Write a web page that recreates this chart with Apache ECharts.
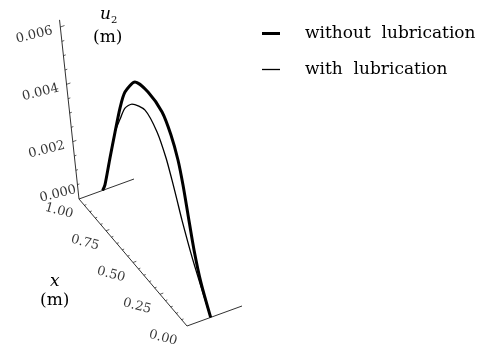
<!DOCTYPE html>
<html>
<head>
<meta charset="utf-8">
<script src="https://cdn.jsdelivr.net/npm/echarts@6/dist/echarts.min.js"></script>
<style>
  html, body { margin: 0; padding: 0; background: #fff; }
  #chart { width: 483px; height: 351px; }
</style>
</head>
<body>
<div id="chart"></div>
<script>
// Vertical displacement u2 along the contact length x, with and without lubrication
const seriesNames = ['without lubrication', 'with lubrication'];

const xWithout = [1.000, 0.973, 0.909, 0.851, 0.800, 0.755, 0.675, 0.578, 0.474, 0.405, 0.347, 0.301, 0.250, 0.185, 0.107, 0.000];
const uWithout = [0, 0.00031, 0.00154, 0.00274, 0.00386, 0.00468, 0.00550, 0.00570, 0.00557, 0.00510, 0.00447, 0.00375, 0.00285, 0.00180, 0.00087, 0];

const xWith = [1.000, 0.973, 0.909, 0.851, 0.795, 0.759, 0.702, 0.601, 0.509, 0.437, 0.386, 0.341, 0.295, 0.197, 0.094, 0.000];
const uWith = [0, 0.00031, 0.00154, 0.00274, 0.00357, 0.00408, 0.00454, 0.00489, 0.00460, 0.00402, 0.00345, 0.00292, 0.00239, 0.00145, 0.00065, 0];

const uTicks = [0, 0.002, 0.004, 0.006];
const uTickLabels = ['0.000', '0.002', '0.004', '0.006'];
const xTicks = [1.00, 0.75, 0.50, 0.25, 0.00];
const xTickLabels = ['1.00', '0.75', '0.50', '0.25', '0.00'];

// --- 3D view: box corner, depth / side edge directions, vertical perspective ---
const VIEW = {
  corner: [79, 199],     // x = 1, side = 0, u = 0
  depth: [108, 127],     // from x = 1 to x = 0
  side: [55, -20],       // side edge of the box
  vanish: [149, 843],    // vertical lines converge here
  rise: 0.267,           // relative height for u = uRef
  uRef: 0.006,
  uTop: 0.00625,
  plane: 0.43            // side position of the curve plane
};

function project(x, u, w) {
  const s = 1 - x;
  const bx = VIEW.corner[0] + s * VIEW.depth[0] + w * VIEW.side[0];
  const by = VIEW.corner[1] + s * VIEW.depth[1] + w * VIEW.side[1];
  const k = VIEW.rise * u / VIEW.uRef;
  return [bx + k * (bx - VIEW.vanish[0]), by + k * (by - VIEW.vanish[1])];
}

function curve(xs, us) {
  return xs.map((x, i) => project(x, us[i], VIEW.plane));
}

// label offsets are applied in the rotated text frame; convert a screen shift
function labelOffset(dx, dy, deg) {
  const a = deg * Math.PI / 180, c = Math.cos(a), s = Math.sin(a);
  return [dx * c - dy * s, dx * s + dy * c];
}

// box edges and ticks as segments [x1, y1, x2, y2, width]
const segments = [];
function seg(a, b, lw) { segments.push([a[0], a[1], b[0], b[1], lw]); }
seg(project(1, 0, 0), project(1, VIEW.uTop, 0), 0.9);
seg(project(1, 0, 0), project(0, 0, 0), 0.9);
seg(project(1, 0, 0), project(1, 0, 1), 0.9);
seg(project(0, 0, 0), project(0, 0, 1), 0.9);
for (let i = 1; i <= 12; i++) {
  const u = i * 0.0005;
  const major = uTicks.some(t => Math.abs(t - u) < 1e-9);
  seg(project(1, u, 0), project(1, u, major ? 0.06 : 0.035), 0.7);
}
for (let i = 1; i < 20; i++) {
  const x = i * 0.05;
  const major = xTicks.some(t => Math.abs(t - x) < 1e-9);
  seg(project(x, 0, 0), project(x, 0, major ? 0.06 : 0.035), 0.7);
}

const serif = '"DejaVu Serif", "Liberation Serif", serif';
const U_ROT = 14, X_ROT = -15;

const uLabelData = uTicks.map((u, i) => ({
  value: project(1, u, 0),
  name: uTickLabels[i],
  label: { offset: i === 0 ? labelOffset(-21, -5, U_ROT) : labelOffset(-26, 8, U_ROT) }
}));
const xLabelData = xTicks.map((x, i) => ({
  value: project(x, 0, 0),
  name: xTickLabels[i],
  label: { offset: labelOffset(-20 - 4 * (1 - x), 12, X_ROT) }
}));

const chart = echarts.init(document.getElementById('chart'), null, { renderer: 'canvas' });
chart.setOption({
  animation: false,
  backgroundColor: '#fff',
  grid: { left: 0, right: 0, top: 0, bottom: 0 },
  xAxis: { type: 'value', min: 0, max: 483, show: false },
  yAxis: { type: 'value', min: 0, max: 351, inverse: true, show: false },
  legend: [
    {
      data: [seriesNames[0]], left: 257, top: 20, icon: 'rect', itemWidth: 18, itemHeight: 3,
      formatter: n => n.replace(' ', '  '),
      textStyle: { fontFamily: serif, fontSize: 17, color: '#000', padding: [0, 0, 0, 20] }
    },
    {
      data: [seriesNames[1]], left: 257, top: 56, icon: 'rect', itemWidth: 18, itemHeight: 1.3,
      formatter: n => n.replace(' ', '  '),
      textStyle: { fontFamily: serif, fontSize: 17, color: '#000', padding: [0, 0, 0, 20] }
    }
  ],
  graphic: [
    { type: 'text', left: 100, top: 6, style: { text: 'u', font: 'italic 17px ' + serif, fill: '#000' } },
    { type: 'text', left: 111, top: 15, style: { text: '2', font: '10px ' + serif, fill: '#000' } },
    { type: 'text', left: 93, top: 29, style: { text: '(m)', font: '17px ' + serif, fill: '#000' } },
    { type: 'text', left: 50, top: 273, style: { text: 'x', font: 'italic 17px ' + serif, fill: '#000' } },
    { type: 'text', left: 40, top: 292, style: { text: '(m)', font: '17px ' + serif, fill: '#000' } }
  ],
  series: [
    {
      type: 'custom',
      silent: true,
      encode: { x: [0, 2], y: [1, 3] },
      data: segments,
      renderItem: (params, api) => {
        const a = api.coord([api.value(0), api.value(1)]);
        const b = api.coord([api.value(2), api.value(3)]);
        return {
          type: 'line',
          shape: { x1: a[0], y1: a[1], x2: b[0], y2: b[1] },
          style: { stroke: '#1a1a1a', lineWidth: api.value(4) }
        };
      }
    },
    {
      type: 'scatter', symbolSize: 0, silent: true, data: uLabelData,
      label: {
        show: true, position: 'inside', rotate: U_ROT,
        formatter: p => p.name, fontFamily: serif, fontSize: 13, color: '#000'
      }
    },
    {
      type: 'scatter', symbolSize: 0, silent: true, data: xLabelData,
      label: {
        show: true, position: 'inside', rotate: X_ROT,
        formatter: p => p.name, fontFamily: serif, fontSize: 13, color: '#000'
      }
    },
    {
      name: seriesNames[0], type: 'line', data: curve(xWithout, uWithout),
      smooth: 0.25, symbol: 'none', color: '#000',
      lineStyle: { width: 3, color: '#000' }
    },
    {
      name: seriesNames[1], type: 'line', data: curve(xWith, uWith),
      smooth: 0.25, symbol: 'none', color: '#000',
      lineStyle: { width: 1.3, color: '#000' }
    }
  ]
});
</script>
</body>
</html>
